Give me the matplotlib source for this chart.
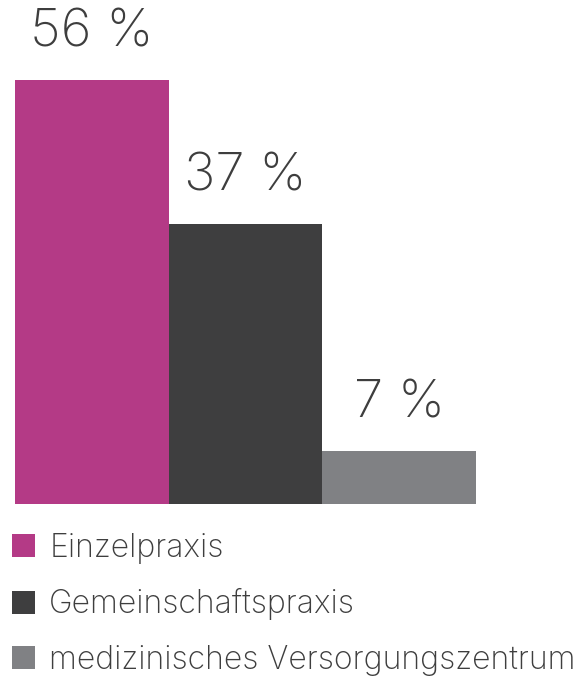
import matplotlib
matplotlib.use("Agg")
import matplotlib.pyplot as plt

categories = ["Einzelpraxis", "Gemeinschaftspraxis", "medizinisches Versorgungszentrum"]
values = [56, 37, 7]
colors = ["#B43A86", "#3E3E3F", "#808184"]
TEXT = "#3E3E3E"

plt.rcParams["font.family"] = ["Inter", "DejaVu Sans"]

W, H = 587, 681
fig = plt.figure(figsize=(W / 100, H / 100), dpi=100)
ax = fig.add_axes([15 / W, (H - 504) / H, 461 / W, 424 / H])

bars = ax.bar(range(len(values)), values, width=1.0, color=colors)
for b, cat in zip(bars, categories):
    b.set_label(cat)

for i, v in enumerate(values):
    ax.annotate(f"{v} %", (i, v), xytext=(0, 16), textcoords="offset points",
                ha="center", va="bottom", fontsize=38, fontweight="light",
                color=TEXT, annotation_clip=False)

ax.set_xlim(-0.5, 2.5)
ax.set_ylim(0, 56)
ax.axis("off")

leg = fig.legend(handles=list(bars), loc="upper left",
                 bbox_to_anchor=(12 / W, (H - 533) / H), frameon=False,
                 fontsize=23, handlelength=0.72, handleheight=0.72,
                 handletextpad=0.45, labelspacing=0.76, borderpad=0,
                 borderaxespad=0, labelcolor=TEXT)
for t in leg.get_texts():
    t.set_fontweight("light")

fig.savefig("out.png", dpi=100, facecolor="white")
